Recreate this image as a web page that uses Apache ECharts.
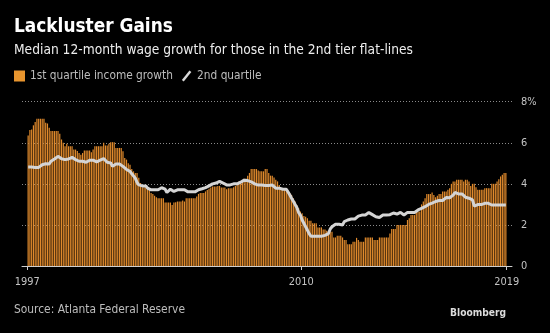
<!DOCTYPE html>
<html><head><meta charset="utf-8">
<script src="https://cdn.jsdelivr.net/npm/echarts@6/dist/echarts.min.js"></script>
<style>html,body{margin:0;padding:0;background:#000;}#c{width:550px;height:333px;}</style>
</head><body><div id="c"></div>
<script>
// Monthly data, Jan 1997 .. Sep 2019
const startYear = 1997;
const q1Growth = [
  6.36,6.62,6.65,6.85,7.01,7.17,7.17,7.17,7.17,7.17,6.98,6.94,
  6.73,6.57,6.57,6.57,6.57,6.57,6.44,6.16,6.00,5.83,5.95,5.83,
  5.83,5.83,5.67,5.67,5.60,5.50,5.42,5.50,5.62,5.62,5.62,5.62,
  5.54,5.67,5.83,5.83,5.83,5.83,5.83,6.00,5.87,5.87,5.95,6.03,
  6.03,6.03,5.75,5.75,5.75,5.75,5.59,5.26,5.18,5.00,4.93,4.72,
  4.61,4.53,4.53,4.30,4.04,3.84,3.84,3.84,3.84,3.70,3.55,3.50,
  3.42,3.35,3.30,3.30,3.30,3.30,3.09,3.09,3.09,3.09,2.97,3.09,
  3.10,3.14,3.14,3.14,3.19,3.14,3.30,3.30,3.30,3.30,3.30,3.30,
  3.38,3.51,3.55,3.55,3.55,3.63,3.70,3.76,3.82,3.87,3.87,3.87,
  3.90,3.90,3.82,3.82,3.82,3.74,3.79,3.79,3.79,3.84,3.90,3.95,
  4.12,4.12,4.12,4.25,4.25,4.40,4.53,4.72,4.72,4.72,4.72,4.65,
  4.61,4.61,4.61,4.72,4.72,4.53,4.40,4.40,4.31,4.20,4.12,3.95,
  3.76,3.76,3.76,3.74,3.66,3.55,3.46,3.30,3.14,2.97,2.81,2.65,
  2.57,2.43,2.40,2.32,2.20,2.20,2.08,2.08,2.08,1.88,1.88,1.88,
  1.78,1.78,1.72,1.67,1.67,1.67,1.39,1.39,1.47,1.47,1.47,1.39,
  1.26,1.26,1.06,1.06,1.06,1.18,1.18,1.37,1.26,1.18,1.18,1.18,
  1.39,1.39,1.39,1.39,1.39,1.26,1.26,1.26,1.39,1.39,1.39,1.39,
  1.39,1.39,1.58,1.80,1.80,1.80,2.00,2.00,2.00,2.00,2.00,2.00,
  2.24,2.32,2.48,2.48,2.48,2.65,2.65,2.65,3.00,3.14,3.30,3.50,
  3.50,3.50,3.58,3.46,3.35,3.42,3.51,3.51,3.63,3.63,3.63,3.71,
  3.79,4.00,4.12,4.12,4.20,4.20,4.20,4.20,4.12,4.20,4.20,4.12,
  3.90,4.00,4.00,3.84,3.71,3.71,3.71,3.71,3.79,3.79,3.79,3.79,
  4.00,4.00,4.00,4.12,4.23,4.36,4.44,4.53,4.53
];
const q2Growth = [
  4.82,4.82,4.82,4.74,4.80,4.80,4.80,4.80,4.93,4.95,4.98,4.98,
  4.97,5.10,5.15,5.21,5.28,5.34,5.26,5.22,5.18,5.18,5.20,5.21,
  5.26,5.29,5.21,5.18,5.15,5.10,5.05,5.10,5.13,5.05,5.10,5.15,
  5.15,5.15,5.15,5.07,5.10,5.15,5.20,5.23,5.15,5.05,5.03,5.02,
  4.85,4.90,4.97,4.97,4.97,4.97,4.85,4.77,4.70,4.66,4.61,4.49,
  4.40,4.28,4.07,3.95,3.90,3.90,3.90,3.90,3.79,3.71,3.71,3.71,
  3.71,3.71,3.71,3.76,3.81,3.78,3.74,3.58,3.66,3.74,3.79,3.63,
  3.71,3.71,3.71,3.71,3.71,3.71,3.71,3.61,3.61,3.61,3.61,3.61,
  3.66,3.71,3.74,3.76,3.79,3.82,3.86,3.90,3.95,4.00,4.02,4.04,
  4.08,4.12,4.08,4.04,4.00,3.95,3.95,3.95,4.00,4.00,4.00,4.00,
  4.04,4.08,4.15,4.18,4.20,4.16,4.12,4.10,4.08,4.00,3.94,3.94,
  3.94,3.94,3.94,3.92,3.92,3.92,4.00,3.94,3.87,3.79,3.79,3.79,
  3.79,3.74,3.74,3.74,3.60,3.46,3.30,3.15,3.00,2.85,2.60,2.48,
  2.24,2.08,1.91,1.75,1.58,1.45,1.42,1.45,1.45,1.45,1.39,1.45,
  1.49,1.49,1.49,1.58,1.80,1.91,1.95,2.03,2.03,2.03,2.08,2.00,
  2.16,2.20,2.24,2.29,2.29,2.29,2.29,2.35,2.43,2.45,2.48,2.48,
  2.48,2.55,2.60,2.53,2.50,2.48,2.40,2.32,2.36,2.40,2.48,2.48,
  2.48,2.48,2.50,2.53,2.58,2.65,2.53,2.61,2.61,2.61,2.48,2.55,
  2.61,2.61,2.61,2.61,2.61,2.61,2.73,2.78,2.81,2.85,2.89,2.95,
  3.00,3.03,3.06,3.10,3.14,3.19,3.19,3.19,3.19,3.25,3.33,3.28,
  3.32,3.35,3.45,3.58,3.55,3.51,3.51,3.51,3.51,3.35,3.33,3.30,
  3.25,3.22,2.92,2.99,2.99,2.99,2.99,2.99,3.05,3.10,3.05,2.97,
  2.97,2.97,2.97,2.97,2.97,2.97,2.97,2.97,2.97
];
const tickMonths = [0, 156, 273];
const tickLabels = ['1997', '2010', '2019'];
const seriesNames = ['1st quartile income growth', '2nd quartile'];

const FAM = "'DejaVu Sans Condensed', 'Liberation Sans Narrow', Roboto, sans-serif";
const mctx = document.createElement('canvas').getContext('2d');
function fit(text, target, weight) {
  mctx.font = (weight || 'normal') + ' 100px ' + FAM;
  return +(100 * target / mctx.measureText(text).width).toFixed(2);
}
const titleSize = fit('Lackluster Gains', 159, 'bold');
const subSize = fit('Median 12-month wage growth for those in the 2nd tier flat-lines', 399);
const legSize = fit(seriesNames[0], 143);
const srcSize = fit('Source: Atlanta Federal Reserve', 171);
const bbgSize = fit('Bloomberg', 56, 'bold');
const axSize = fit('1997', 25);

const chart = echarts.init(document.getElementById('c'));
chart.setOption({
  backgroundColor: '#000',
  animation: false,
  title: [
    { text: 'Lackluster Gains', left: 14, top: 27.5 - titleSize / 2, padding: 0,
      textStyle: { color: '#fff', fontWeight: 'bold', fontSize: titleSize, fontFamily: FAM } },
    { text: 'Median 12-month wage growth for those in the 2nd tier flat-lines', left: 14, top: 50.3 - subSize / 2, padding: 0,
      textStyle: { color: '#ececec', fontWeight: 'normal', fontSize: subSize, fontFamily: FAM } },
    { text: 'Source: Atlanta Federal Reserve', left: 14, top: 310 - srcSize / 2, padding: 0,
      textStyle: { color: '#bdbdbd', fontWeight: 'normal', fontSize: srcSize, fontFamily: FAM } },
    { text: 'Bloomberg', right: 44, top: 313 - bbgSize / 2, padding: 0,
      textStyle: { color: '#dcdcdc', fontWeight: 'bold', fontSize: bbgSize, fontFamily: FAM } }
  ],
  legend: {
    left: 14, top: 70, padding: 0, itemWidth: 11, itemHeight: 11, itemGap: 9,
    textStyle: { color: '#bdbdbd', fontSize: legSize, fontFamily: FAM },
    data: [
      { name: seriesNames[0], icon: 'rect', itemStyle: { color: '#e8952e' } },
      { name: seriesNames[1], icon: 'path://M0,10L8,0L10,1.6L2,11.6Z', itemStyle: { color: '#d9d9d9' } }
    ]
  },
  grid: { left: 22, right: 38, top: 101.7, bottom: 67 },
  xAxis: {
    type: 'value', min: -3, max: 276,
    splitLine: { show: false },
    axisLine: { show: true, lineStyle: { color: '#cfcfcf', width: 1 } },
    axisTick: { show: true, customValues: tickMonths, length: 4, lineStyle: { color: '#cfcfcf' } },
    axisLabel: { customValues: tickMonths, margin: 11, color: '#c4c4c4', fontSize: axSize, fontFamily: FAM,
      formatter: v => tickLabels[tickMonths.indexOf(v)] }
  },
  yAxis: {
    type: 'value', position: 'right', min: 0, max: 8, interval: 2,
    axisLine: { show: false }, axisTick: { show: false },
    axisLabel: { margin: 9, color: '#c4c4c4', fontSize: axSize, fontFamily: FAM,
      formatter: v => v === 8 ? '8%' : String(v) },
    splitLine: { lineStyle: { color: '#8a8a8a', type: [1, 2], width: 1 } }
  },
  series: [
    { name: seriesNames[0], type: 'bar', barWidth: 1.2, itemStyle: { color: '#e08a2c' },
      data: q1Growth.map((v, i) => [i + 0.5, v]) },
    { name: seriesNames[1], type: 'line', showSymbol: false, symbol: 'none',
      itemStyle: { color: '#d9d9d9' }, lineStyle: { color: '#d4d4d4', width: 3 },
      data: q2Growth.map((v, i) => [i + 0.5, v]) }
  ]
});
</script></body></html>
